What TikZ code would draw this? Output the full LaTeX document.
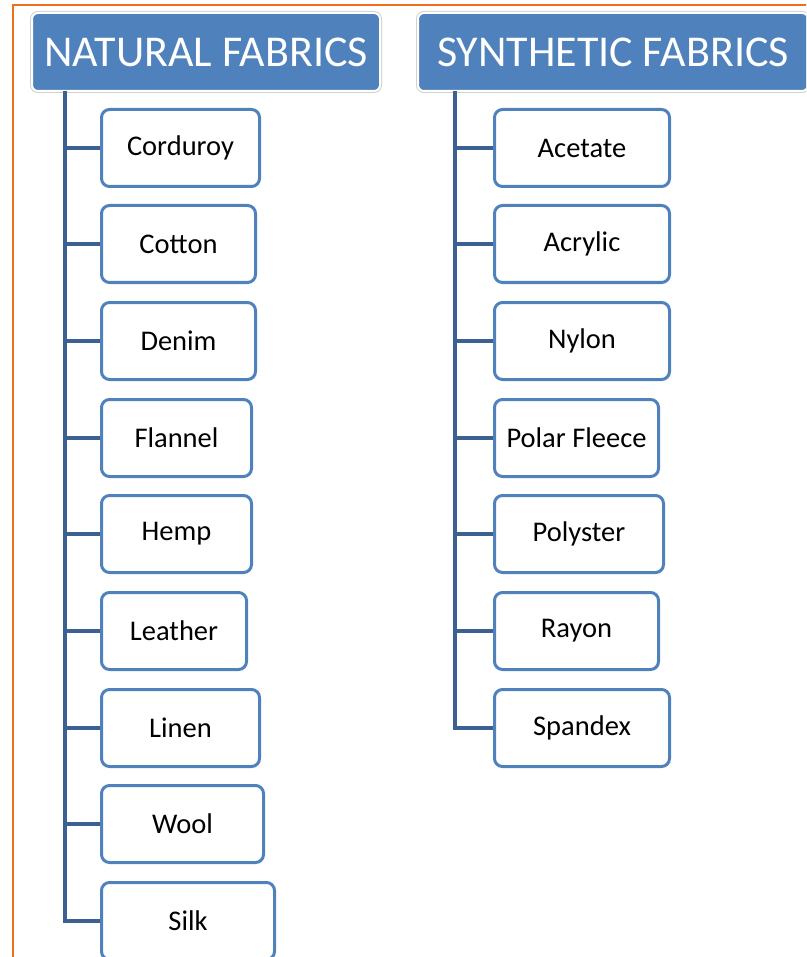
\documentclass[tikz,border=0pt]{standalone}
\usepackage{fontspec}
\setmainfont{Carlito}
\definecolor{hdr}{RGB}{79,129,189}
\definecolor{bord}{RGB}{79,129,189}
\definecolor{connc}{RGB}{60,97,144}
\definecolor{orng}{RGB}{240,110,30}
\begin{document}
\begin{tikzpicture}[x=1pt,y=-1pt,
 header/.style={rounded corners=6pt, fill=hdr, draw=white, line width=2pt,
   preaction={draw=black!18, line width=4pt},
   text=white, font=\fontsize{44}{50}\selectfont, inner sep=0pt,
   minimum height=78pt, anchor=north west},
 item/.style={rounded corners=8pt, draw=bord, line width=3pt, fill=white,
   inner sep=0pt, minimum height=77pt, font=\fontsize{28.5}{32}\selectfont, anchor=west},
 conn/.style={draw=connc, line width=3.4pt}]
\useasboundingbox (0,0) rectangle (806,957);
\clip (0,0) rectangle (806,957);
% orange frame
\draw[orng, line width=2.5pt] (13,960) -- (13,5) -- (810,5);
% headers
\node[header, minimum width=348pt] (nh) at (31,12) {NATURAL FABRICS};
\node[header, minimum width=390pt] (sh) at (417,12) {SYNTHETIC FABRICS};
% trunks
\coordinate (nt) at (65,91);
\coordinate (st) at (455,91);
% natural items
\node[item, minimum width=158pt] (n1) at (100,148) {Corduroy};
\node[item, minimum width=154pt] (n2) at (100,244) {Cotton};
\node[item, minimum width=154pt] (n3) at (100,341) {Denim};
\node[item, minimum width=150pt] (n4) at (100,438) {Flannel};
\node[item, minimum width=150pt] (n5) at (100,534) {Hemp};
\node[item, minimum width=145pt] (n6) at (100,631) {Leather};
\node[item, minimum width=158pt] (n7) at (100,728) {Linen};
\node[item, minimum width=162pt] (n8) at (100,824) {Wool};
\node[item, minimum width=173pt] (n9) at (100,921) {Silk};
% synthetic items
\node[item, minimum width=175pt] (s1) at (493,148) {Acetate};
\node[item, minimum width=175pt] (s2) at (493,244) {Acrylic};
\node[item, minimum width=175pt] (s3) at (493,341) {Nylon};
\node[item, minimum width=164pt] (s4) at (493,438) {Polar Fleece};
\node[item, minimum width=169pt] (s5) at (493,534) {Polyster};
\node[item, minimum width=164pt] (s6) at (493,631) {Rayon};
\node[item, minimum width=175pt] (s7) at (493,728) {Spandex};
% connectors
\draw[conn] (nt) |- (n9.west);
\foreach \i in {1,...,8} \draw[conn] (n\i.west) -- (n\i.west -| nt);
\draw[conn] (st) |- (s7.west);
\foreach \i in {1,...,6} \draw[conn] (s\i.west) -- (s\i.west -| st);
\end{tikzpicture}
\end{document}
